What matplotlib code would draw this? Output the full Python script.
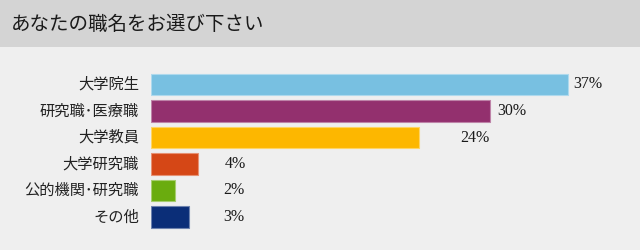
import numpy as np
import matplotlib
matplotlib.use("Agg")
from matplotlib import pyplot as plt
from matplotlib.patches import Rectangle
import matplotlib.colors as mcolors

plt.rcParams['font.family'] = ['Noto Sans CJK JP', 'DejaVu Sans']

##### data #####
title = "あなたの職名をお選び下さい"
categories = ["大学院生", "研究職･医療職", "大学教員", "大学研究職", "公的機関･研究職", "その他"]
values = [36.9, 30.0, 23.7, 4.2, 2.1, 3.4]   # % (bar lengths)
pct_labels = ["37%", "30%", "24%", "4%", "2%", "3%"]
label_x = [37.4, 30.7, 27.4, 6.5, 6.4, 6.4]   # where the % text sits, in % units
colors = ["#78c0e1", "#93306e", "#fdb700", "#d54716", "#6aac0e", "#0b2e78"]

W, H = 640, 250
fig = plt.figure(figsize=(W / 100, H / 100), dpi=100)
fig.patch.set_facecolor("#efefef")

# title band
fig.patches.append(Rectangle((0, 1 - 47 / H), 1, 47 / H, transform=fig.transFigure,
                             facecolor="#d4d4d4", edgecolor="none", zorder=0))
fig.text(11 / W, 1 - 24 / H, title, fontsize=14, color="#1a1a1a",
         va="center", ha="left")

### bars ###
px = 11.29  # pixels per percent
xmax = 40
slot = 26.5
top = 84.5 - slot / 2
ax = fig.add_axes([151 / W, 1 - (top + 6 * slot) / H, xmax * px / W, 6 * slot / H])
ax.set_facecolor("none")
y = np.arange(len(categories))
edges = [mcolors.to_hex(0.6 * np.array(mcolors.to_rgb(c)) + 0.4) for c in colors]
ax.barh(y, values, height=21.5 / slot, color=colors, edgecolor=edges, linewidth=0.8)
ax.set_xlim(0, xmax)
ax.set_ylim(len(categories) - 0.5, -0.5)

for i in range(len(categories)):
    ax.text(label_x[i], y[i], pct_labels[i], fontsize=11.5, family="Liberation Serif",
            color="#1a1a1a", va="center", ha="left")
    ax.text(-12 / px, y[i], categories[i], fontsize=11, color="#222222",
            va="center", ha="right")

ax.set_xticks([])
ax.set_yticks([])
for s in ax.spines.values():
    s.set_visible(False)

fig.savefig("out.png", dpi=100, facecolor=fig.get_facecolor())
